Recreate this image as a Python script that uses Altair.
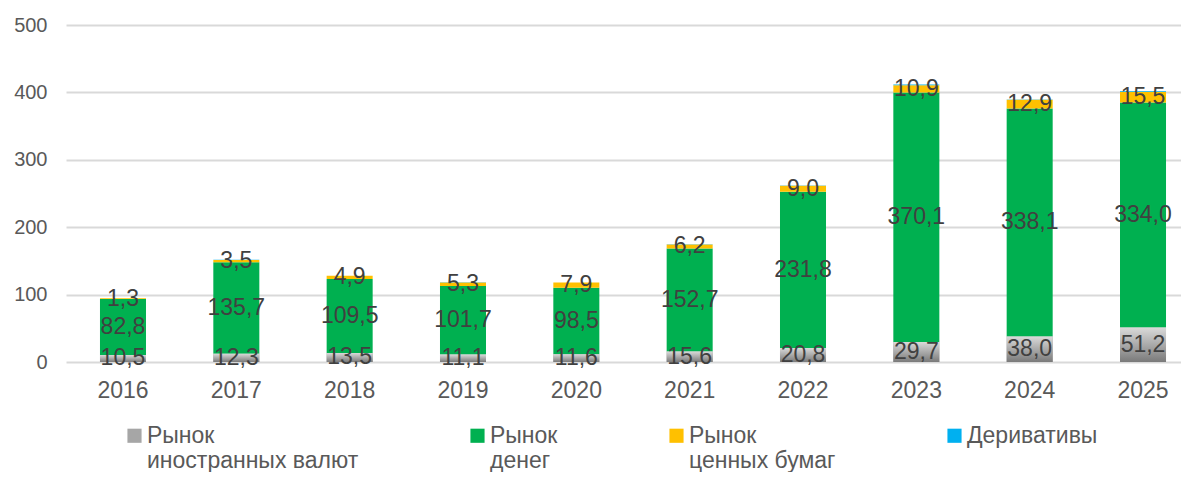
import altair as alt
import pandas as pd

years = ["2016", "2017", "2018", "2019", "2020", "2021", "2022", "2023", "2024", "2025"]
fx_market = [10.5, 12.3, 13.5, 11.1, 11.6, 15.6, 20.8, 29.7, 38.0, 51.2]
money_market = [82.8, 135.7, 109.5, 101.7, 98.5, 152.7, 231.8, 370.1, 338.1, 334.0]
securities_market = [1.3, 3.5, 4.9, 5.3, 7.9, 6.2, 9.0, 10.9, 12.9, 15.5]
derivatives = [0.1, 0.1, 0.1, 0.1, 0.1, 0.2, 0.3, 1.0, 0.3, 1.0]

series_names = ["Рынок|иностранных валют", "Рынок|денег", "Рынок|ценных бумаг", "Деривативы"]
series_colors = ["#A6A6A6", "#00B050", "#FFC000", "#00B0F0"]
y_ticks = [0, 100, 200, 300, 400, 500]

rows = []
for si, (name, vals) in enumerate(zip(series_names, [fx_market, money_market, securities_market, derivatives])):
    for y, v in zip(years, vals):
        rows.append({"year": y, "series": name, "order": si, "value": v})
df = pd.DataFrame(rows)

FONT = "Arial, Liberation Sans"

base = alt.Chart(df).transform_stack(
    stack="value", groupby=["year"], as_=["y0", "y1"], sort=[alt.SortField("order", order="ascending")]
).transform_calculate(
    mid="(datum.y0 + datum.y1) / 2",
    lbl="replace(format(datum.value, '.1f'), '.', ',')",
)

x_enc = alt.X(
    "year:N",
    sort=years,
    title=None,
    scale=alt.Scale(paddingInner=0.594, paddingOuter=0.216, align=0.694),
    axis=alt.Axis(labelAngle=0, labelFontSize=23, labelColor="#595959", labelFont=FONT,
                  ticks=False, domain=False, labelPadding=17, grid=False),
)
y_scale = alt.Scale(domain=[0, 500], nice=False)

bars = base.mark_bar().encode(
    x=x_enc,
    y=alt.Y("y0:Q", scale=y_scale, title=None,
            axis=alt.Axis(values=y_ticks, labelFontSize=20, labelColor="#595959", labelFont=FONT,
                          ticks=False, domain=False, labelPadding=19,
                          gridColor="#D9D9D9", gridWidth=2)),
    y2="y1:Q",
    color=alt.Color(
        "series:N",
        scale=alt.Scale(domain=series_names, range=series_colors),
        sort=series_names,
        legend=alt.Legend(
            title=None, orient="none", legendX=57, legendY=399, direction="horizontal",
            columns=4, columnPadding=107, symbolType="square", symbolSize=200,
            symbolStrokeWidth=0, labelFontSize=23, labelColor="#595959", labelFont=FONT,
            labelLimit=400, labelOffset=1, padding=0,
            labelExpr="indexof(datum.label, '|') >= 0 ? split(datum.label, '|') : [datum.label, ' ']",
        ),
    ),
)

fx_gradient = base.transform_filter(
    alt.datum.order == 0
).mark_bar(
    fill=alt.Gradient(
        gradient="linear",
        stops=[alt.GradientStop(color="#DADADA", offset=0), alt.GradientStop(color="#7A7A7A", offset=1)],
        x1=0, y1=0, x2=0, y2=1,
    )
).encode(
    x=alt.X("year:N", sort=years),
    y=alt.Y("y0:Q", scale=y_scale),
    y2="y1:Q",
)

labels = base.transform_filter(
    alt.datum.order < 3
).mark_text(fontSize=23, color="#404040", font=FONT, baseline="middle", align="center").encode(
    x=alt.X("year:N", sort=years),
    y=alt.Y("mid:Q", scale=y_scale),
    text="lbl:N",
)

chart = alt.layer(bars, fx_gradient, labels).properties(
    width=1115,
    height=337,
    autosize=alt.AutoSizeParams(type="none"),
    padding={"left": 58, "top": 17, "right": 0, "bottom": 110},
).configure_view(stroke=None).configure_text(lineHeight=22)

chart.save("out.html", embed_options={"renderer": "svg", "actions": False})
